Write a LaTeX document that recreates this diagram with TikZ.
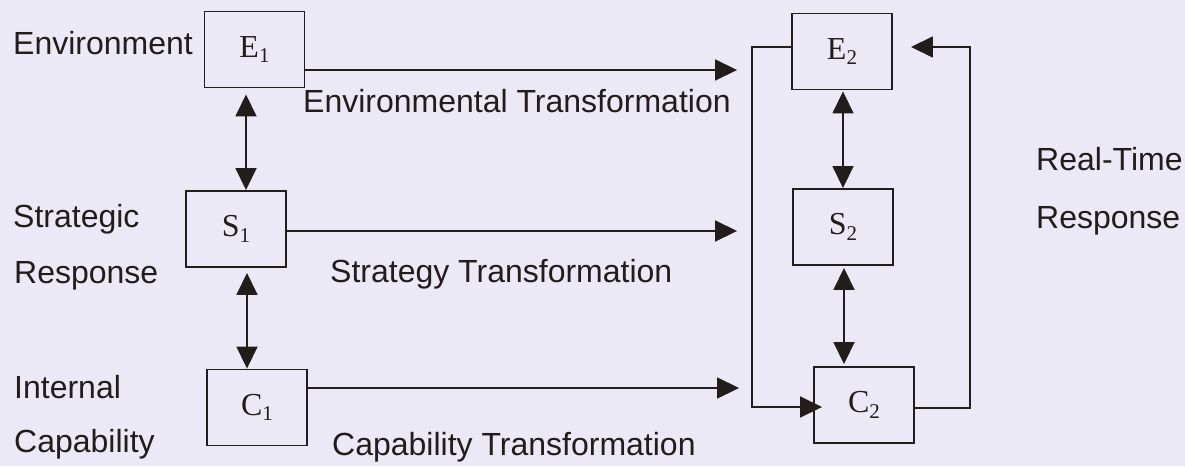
\documentclass[tikz,border=0pt]{standalone}
\usepackage{fontspec}
\setmainfont{Liberation Sans}
\newfontfamily\boxfont{Liberation Serif}
\usetikzlibrary{arrows.meta}
\definecolor{paper}{RGB}{236,233,246}
\definecolor{ink}{RGB}{34,29,26}
% letter with a lowered index digit, as in E1, S1, C1
\newcommand{\lowidx}[2]{#1\raisebox{-0.18em}{\fontsize{21}{21}\selectfont #2}}
\begin{document}
\begin{tikzpicture}[x=1pt,y=-1pt,
  stage/.style={draw=ink, line width=1.9pt, minimum width=100pt, minimum height=76pt,
    inner sep=0pt, font=\boxfont\fontsize{32}{32}\selectfont, text=ink},
  lbl/.style={anchor=base west, inner sep=0pt, font=\fontsize{32}{32}\selectfont, text=ink},
  tip/.style={Triangle[length=22pt,width=21pt]},
  link/.style={draw=ink, line width=1.7pt, -{Triangle[length=22pt,width=21pt]}},
  dual/.style={draw=ink, line width=1.7pt,
    {Triangle[length=22pt,width=21pt]}-{Triangle[length=22pt,width=21pt]}}
]
% page
\fill[paper] (0,0) rectangle (1185,466);
\useasboundingbox (0,0) rectangle (1185,466);

% state boxes: before (left column) and after (right column)
\node[stage] (E1) at (254.5,49.5) {\lowidx{E}{1}};
\node[stage] (S1) at (236,229)    {\lowidx{S}{1}};
\node[stage] (C1) at (257,407.5)  {\lowidx{C}{1}};
\node[stage] (E2) at (842,51.5)   {\lowidx{E}{2}};
\node[stage] (S2) at (843,227)    {\lowidx{S}{2}};
\node[stage] (C2) at (864,405)    {\lowidx{C}{2}};

% row labels
\node[lbl] (lEnv)  at (13,54)  {Environment};
\node[lbl] (lStr)  at (13,227) {Strategic};
\node[lbl] (lRes)  at (14,283) {Response};
\node[lbl] (lInt)  at (14,398) {Internal};
\node[lbl] (lCap)  at (14,452) {Capability};

% transformation labels
\node[lbl] (tEnv) at (303,112) {Environmental Transformation};
\node[lbl] (tStr) at (330,282) {Strategy Transformation};
\node[lbl] (tCap) at (332,455) {Capability Transformation};

% real-time response label
\node[lbl] (rt1) at (1036,170) {Real-Time};
\node[lbl] (rt2) at (1036,228) {Response};

% links within each column
\draw[dual, shorten <=6pt] ([xshift=-8.5pt]E1.south) -- ([xshift=10pt]S1.north);
\draw[dual, shorten <=5pt] ([xshift=11pt]S1.south) -- ([xshift=-10pt]C1.north);
\draw[dual, shorten <=1pt] ([xshift=1pt]E2.south) -- (S2.north);
\draw[dual, shorten <=2pt, shorten >=2pt] ([xshift=1pt]S2.south) -- ([xshift=-20pt]C2.north);

% transformations
\draw[link, shorten >=54pt] ([yshift=-20.5pt]E1.east) -- ([yshift=-20.5pt]E1.east -| E2.west);
\draw[link, shorten >=55pt] ([yshift=-2pt]S1.east) -- ([yshift=-2pt]S1.east -| S2.west);
\draw[link, shorten >=74pt] ([yshift=19.5pt]C1.east) -- ([yshift=19.5pt]C1.east -| C2.west);

% feedback loops
\draw[link, shorten >=-9pt] ([yshift=4.5pt]E2.west) -- ++(-39,0) |- ([yshift=-2pt]C2.west);
\draw[link, shorten >=18pt] ([yshift=-3pt]C2.east) -- ++(55,0) |- ([yshift=4.5pt]E2.east);
\end{tikzpicture}
\end{document}
